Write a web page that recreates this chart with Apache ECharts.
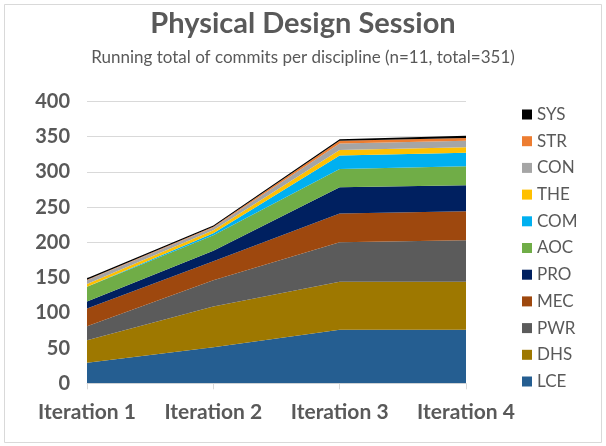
<!DOCTYPE html>
<html>
<head>
<meta charset="utf-8">
<script src="https://cdn.jsdelivr.net/npm/echarts@6/dist/echarts.min.js"></script>
<style>
html,body{margin:0;padding:0;background:#fff;}
#chart{width:606px;height:446px;}
</style>
</head>
<body>
<div id="chart"></div>
<script>
const categories = ['Iteration 1', 'Iteration 2', 'Iteration 3', 'Iteration 4'];
const yTicks = [0, 50, 100, 150, 200, 250, 300, 350, 400];
const LCE = [29, 51, 76, 76];
const DHS = [32, 58, 68, 68];
const PWR = [20, 37, 56, 59];
const MEC = [25, 27, 41, 41];
const PRO = [10, 15, 37, 37];
const AOC = [21, 22, 26, 27];
const COM = [0, 3, 19, 19];
const THE = [4, 4, 8, 8];
const CON = [5, 4, 9, 9];
const STR = [1, 1, 4, 4];
const SYS = [2, 2, 2, 3];

const seriesDefs = [
  ['LCE', LCE, '#255E91'],
  ['DHS', DHS, '#9E7800'],
  ['PWR', PWR, '#5B5B5B'],
  ['MEC', MEC, '#9E480E'],
  ['PRO', PRO, '#002060'],
  ['AOC', AOC, '#70AD47'],
  ['COM', COM, '#00B0F0'],
  ['THE', THE, '#FFC000'],
  ['CON', CON, '#A5A5A5'],
  ['STR', STR, '#ED7D31'],
  ['SYS', SYS, '#000000']
];

const chart = echarts.init(document.getElementById('chart'), null, {renderer: 'canvas'});
const textColor = '#595959';
const font = 'Lato, Carlito, Calibri, sans-serif';

chart.setOption({
  animation: false,
  backgroundColor: '#ffffff',
  color: seriesDefs.map(s => s[2]),
  title: [{
    text: 'Physical Design Session',
    left: 'center',
    top: 9,
    padding: 0,
    textStyle: {fontFamily: font, fontWeight: 'bold', fontSize: 29, color: textColor}
  }, {
    text: 'Running total of commits per discipline (n=11, total=351)',
    left: 'center',
    top: 49,
    padding: 0,
    textStyle: {fontFamily: font, fontWeight: 'normal', fontSize: 17, color: textColor}
  }],
  legend: {
    orient: 'vertical',
    left: 522,
    top: 106,
    padding: 0,
    itemWidth: 10,
    itemHeight: 10,
    itemGap: 9.7,
    icon: 'rect',
    data: seriesDefs.map(s => s[0]).reverse(),
    textStyle: {fontFamily: font, fontSize: 17, color: textColor, lineHeight: 16}
  },
  grid: {left: 87, right: 140, top: 101.3, bottom: 62.7, containLabel: false},
  xAxis: {
    type: 'category',
    data: categories,
    boundaryGap: false,
    axisLine: {lineStyle: {color: '#D9D9D9', width: 1}},
    axisTick: {show: true, length: 6, interval: 0, lineStyle: {color: '#D9D9D9'}},
    axisLabel: {interval: 0, hideOverlap: false, fontFamily: font, fontWeight: 'bold', fontSize: 21, color: textColor, margin: 18}
  },
  yAxis: {
    type: 'value',
    min: 0,
    max: 400,
    interval: 50,
    axisLine: {show: false},
    axisTick: {show: false},
    splitLine: {lineStyle: {color: '#D9D9D9', width: 1}},
    axisLabel: {
      fontFamily: font, fontWeight: 'bold', fontSize: 20, color: textColor, margin: 17,
      formatter: v => yTicks.includes(v) ? String(v) : ''
    }
  },
  series: seriesDefs.map(([name, data, color]) => ({
    name: name,
    type: 'line',
    stack: 'total',
    data: data,
    symbol: 'none',
    lineStyle: {width: 0, color: color},
    itemStyle: {color: color},
    areaStyle: {color: color, opacity: 1}
  })),
  graphic: [{
    type: 'rect',
    shape: {x: 4.5, y: 4.5, width: 597, height: 438},
    style: {fill: 'none', stroke: '#D9D9D9', lineWidth: 1},
    silent: true
  }]
});
</script>
</body>
</html>
